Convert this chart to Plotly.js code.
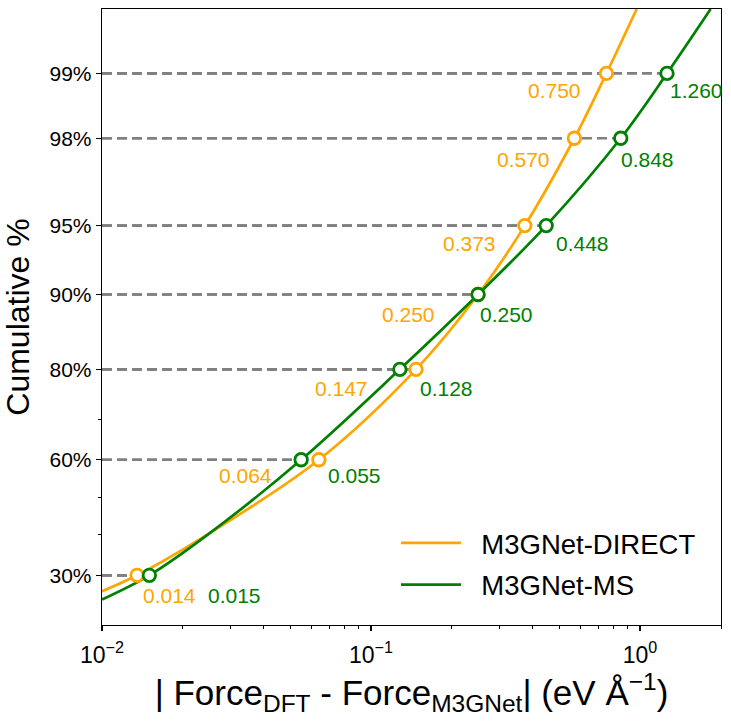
<!DOCTYPE html>
<html><head><meta charset="utf-8">
<script src="https://cdn.plot.ly/plotly-3.0.1.min.js"></script>
<style>html,body{margin:0;padding:0;background:#fff}#chart{width:731px;height:727px}</style>
</head><body><div id="chart"></div>
<script>
// ---- data ----
const seriesNames = ["M3GNet-DIRECT", "M3GNet-MS"];
const quantilePct = [30, 60, 80, 90, 95, 98, 99];
const directQx = [0.0135, 0.064, 0.147, 0.250, 0.373, 0.570, 0.750];
const directLabels = ["0.014", "0.064", "0.147", "0.250", "0.373", "0.570", "0.750"];
const msQx = [0.015, 0.055, 0.128, 0.250, 0.448, 0.848, 1.260];
const msLabels = ["0.015", "0.055", "0.128", "0.250", "0.448", "0.848", "1.260"];
// cumulative curves: |error| (eV/A) vs cumulative %
const directCurveX = [0.010, 0.0135, 0.0253, 0.064, 0.147, 0.250, 0.373, 0.570, 0.750, 0.972];
const directCurvePct = [26.5, 30, 40.5, 60, 80, 90, 95, 98, 99, 99.5];
const msCurveX = [0.010, 0.015, 0.0253, 0.055, 0.128, 0.250, 0.448, 0.848, 1.260, 1.83];
const msCurvePct = [24.8, 30, 40.5, 60, 80, 90, 95, 98, 99, 99.5];
const yTickPct = [30, 60, 80, 90, 95, 98, 99];
const yMinorPct = [40, 50, 70];
const xTickVals = [0.01, 0.1, 1];
const xTickText = ["10<sup>\u22122</sup>", "10<sup>\u22121</sup>", "10<sup>0</sup>"];

// ---- styles / label placement (pixels) ----
const colors = ["#FFA500", "#008000"];
const xRange = [0.01, 2];
const yRangePct = [20, 99.5];
const labelStyle = [
  {anchor: ["left", "right", "right", "right", "right", "right", "right"],
   dx: [4, -45, -46, -41, -27, -22, -23], dy: [20, 16, 19, 20, 18, 21, 17]},
  {anchor: ["left", "left", "left", "left", "left", "left", "left"],
   dx: [57, 25, 18, 0, 8, -2, 1], dy: [20, 16, 19, 20, 18, 21, 17]}
];

// logit transform for the probability axis
const logit = p => Math.log(p / (100 - p));

const qxs = [directQx, msQx];
const labels = [directLabels, msLabels];
const curveX = [directCurveX, msCurveX];
const curvePct = [directCurvePct, msCurvePct];

const traces = [];
// dashed guide lines
qxs.forEach((qx) => {
  const xs = [], ys = [];
  qx.forEach((v, i) => { xs.push(xRange[0], v, null); const y = logit(quantilePct[i]); ys.push(y, y, null); });
  traces.push({x: xs, y: ys, mode: "lines", line: {color: "#808080", width: 2.7, dash: "10px,5px"},
    showlegend: false, hoverinfo: "skip"});
});
// curves
curveX.forEach((cx, s) => {
  traces.push({x: cx, y: curvePct[s].map(logit), mode: "lines", name: "\u00A0\u00A0" + seriesNames[s],
    legendgroup: "g" + s,
    line: {color: colors[s], width: 2.7, shape: "spline", smoothing: 1}});
});
// markers
qxs.forEach((qx, s) => {
  traces.push({x: qx, y: quantilePct.map(logit), mode: "markers", showlegend: false,
    marker: {symbol: "circle", size: 12.5, color: "#ffffff", line: {color: colors[s], width: 2.8}}});
});

const annotations = [];
qxs.forEach((qx, s) => {
  qx.forEach((v, i) => {
    annotations.push({x: Math.log10(v), y: logit(quantilePct[i]), xref: "x", yref: "y",
      text: labels[s][i], showarrow: false, xanchor: labelStyle[s].anchor[i], yanchor: "middle",
      xshift: labelStyle[s].dx[i], yshift: -labelStyle[s].dy[i],
      font: {size: 21, color: colors[s]}});
  });
});

const minorX = [];
for (let d = -2; d <= 0; d++) for (let m = 2; m <= 9; m++) { const v = m * Math.pow(10, d); if (v <= xRange[1]) minorX.push(v); }

const layout = {
  width: 731, height: 727,
  margin: {l: 102, r: 10, t: 9, b: 102},
  paper_bgcolor: "#fff", plot_bgcolor: "#fff",
  font: {family: "Liberation Sans, Arial, sans-serif", color: "#000"},
  showlegend: true,
  legend: {x: 0.475, y: 0.173, xanchor: "left", yanchor: "top", bgcolor: "rgba(0,0,0,0)",
    font: {size: 27.5}, itemwidth: 60, tracegroupgap: 3, traceorder: "grouped"},
  xaxis: {type: "log", range: [Math.log10(xRange[0]), Math.log10(xRange[1])],
    tickvals: xTickVals, ticktext: xTickText, tickfont: {size: 23}, ticklabelstandoff: 4,
    ticks: "outside", ticklen: 5, tickwidth: 1.3, tickcolor: "#000",
    showline: true, linecolor: "#000", linewidth: 1.3, mirror: true,
    showgrid: false, zeroline: false,
    minor: {tickvals: minorX, ticks: "outside", ticklen: 3, tickwidth: 1, tickcolor: "#000", showgrid: false},
    title: {text: "| Force<sub>DFT</sub> - Force<sub>M3GNet</sub>| (eV \u00C5<sup>\u22121</sup>)", font: {size: 35}, standoff: 13}},
  yaxis: {range: yRangePct.map(logit), tickvals: yTickPct.map(logit), ticktext: yTickPct.map(p => p + "%"),
    tickfont: {size: 21}, ticks: "outside", ticklen: 5, tickwidth: 1.3, tickcolor: "#000",
    showline: true, linecolor: "#000", linewidth: 1.3, mirror: true,
    showgrid: false, zeroline: false,
    minor: {tickvals: yMinorPct.map(logit), ticks: "outside", ticklen: 3, tickwidth: 1, tickcolor: "#000", showgrid: false},
    title: {text: "Cumulative %", font: {size: 32}, standoff: 10}},
  annotations: annotations
};

Plotly.newPlot("chart", traces, layout, {staticPlot: true, displayModeBar: false});
</script></body></html>
